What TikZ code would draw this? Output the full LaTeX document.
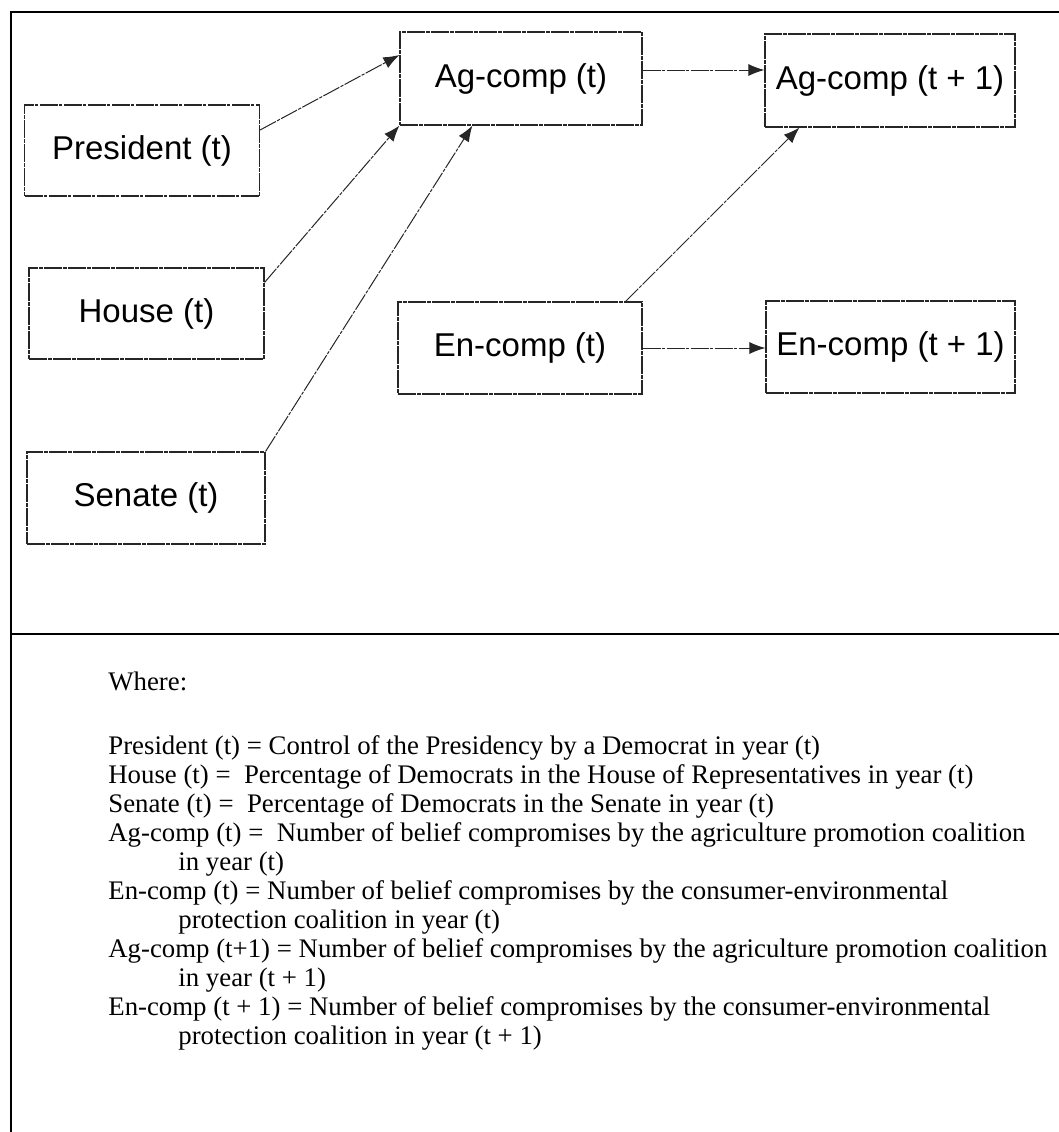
\documentclass[tikz,border=0pt]{standalone}
\usepackage{fontspec}
\setmainfont{Liberation Serif}
\newfontfamily\boxfont{Liberation Sans}
\usetikzlibrary{arrows.meta,calc}

\begin{document}
\begin{tikzpicture}[x=0.5pt,y=-0.5pt,
  frame/.style={line width=1pt,black},
  varbox/.style={rectangle,draw=black!85,line width=0.55pt,
    dash pattern=on 9pt off 0.7pt on 1.6pt off 0.7pt,
    inner sep=0pt,font=\boxfont\fontsize{16.5}{19}\selectfont,text=black},
  link/.style={draw=black!85,line width=0.5pt,
    dash pattern=on 9pt off 0.7pt on 1.6pt off 0.7pt,
    -{Latex[length=8pt,width=6pt]}},
  legendline/.style={anchor=base west,inner sep=0pt,
    font=\fontsize{13.4}{14.5}\selectfont}
]
\useasboundingbox (0,0) rectangle (1059,1132);

% outer frame and divider between the model and its legend
\draw[frame] (11,1132) -- (11,12) -- (1059,12);
\draw[frame] (11,634) -- (1059,634);

% variables of the model
\node[varbox,minimum width=117.5pt,minimum height=45.5pt] (pres)   at (142,150.5) {President (t)};
\node[varbox,minimum width=117.5pt,minimum height=45.5pt] (house)  at (146.5,313.5) {House (t)};
\node[varbox,minimum width=119pt,minimum height=46pt]     (senate) at (146,498) {Senate (t)};
\node[varbox,minimum width=121pt,minimum height=46.5pt]   (agt)    at (521,78.5) {Ag-comp (t)};
\node[varbox,minimum width=125pt,minimum height=46.5pt]   (agt1)   at (890,80.5) {Ag-comp (t + 1)};
\node[varbox,minimum width=122pt,minimum height=46pt]     (en)     at (520,348) {En-comp (t)};
\node[varbox,minimum width=124.5pt,minimum height=46pt]   (en1)    at (890.5,347) {En-comp (t + 1)};

% causal paths
\draw[link] ([yshift=10.25pt]pres.east) -- ([yshift=11.75pt]agt.west);
\draw[link] ([yshift=-7.5pt]house.north east) -- (agt.south west);
\draw[link] (senate.north east) -- ([xshift=36.5pt]agt.south west);
\draw[link] ([yshift=4.25pt]agt.east) -- ([yshift=4.25pt]agt.east -| agt1.west);
\draw[link] ([xshift=-8.5pt]en.north east) -- ([xshift=17.5pt]agt1.south west);
\draw[link] (en.east) -- (en.east -| en1.west);

% legend
\node[legendline] (lwhere) at (108,690) {Where:};
\node[legendline] (lpres)  at (108,754) {President (t) = Control of the Presidency by a Democrat in year (t)};
\node[legendline] (lhouse) at (108,783) {House (t) =\ \ Percentage of Democrats in the House of Representatives in year (t)};
\node[legendline] (lsen)   at (108,812) {Senate (t) =\ \ Percentage of Democrats in the Senate in year (t)};
\node[legendline] (lag)    at (108,841) {Ag-comp (t) =\ \ Number of belief compromises by the agriculture promotion coalition};
\node[legendline] (lagb)   at (178,870) {in year (t)};
\node[legendline] (len)    at (108,899) {En-comp (t) = Number of belief compromises by the consumer-environmental};
\node[legendline] (lenb)   at (178,928) {protection coalition in year (t)};
\node[legendline] (lag1)   at (108,957) {Ag-comp (t+1) = Number of belief compromises by the agriculture promotion coalition};
\node[legendline] (lag1b)  at (178,986) {in year (t + 1)};
\node[legendline] (len1)   at (108,1015) {En-comp (t + 1) = Number of belief compromises by the consumer-environmental};
\node[legendline] (len1b)  at (178,1044) {protection coalition in year (t + 1)};
\end{tikzpicture}
\end{document}
